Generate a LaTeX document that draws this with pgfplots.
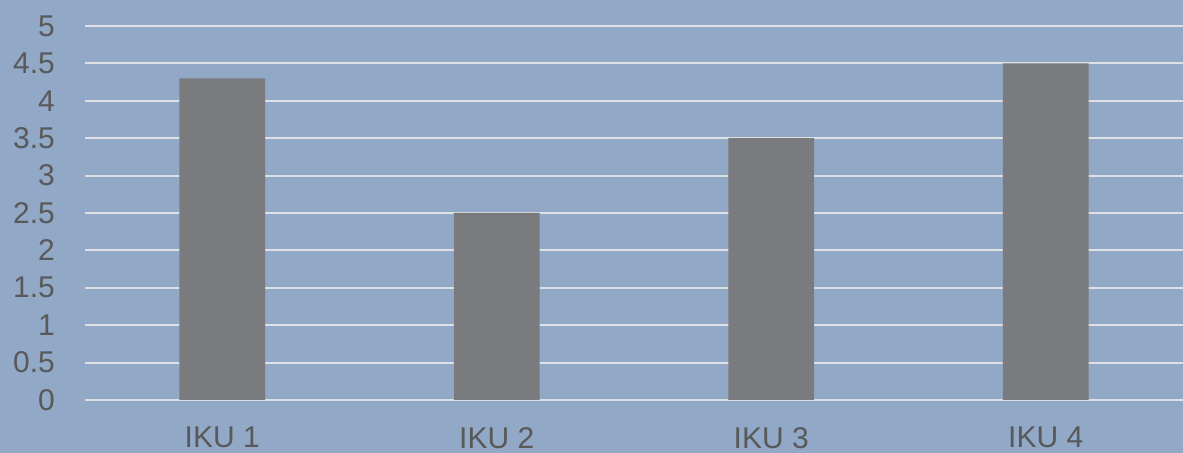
\documentclass[border=0pt]{standalone}
\usepackage{pgfplots}
\pgfplotsset{compat=1.18}
\usepackage{fontspec}
\setmainfont{Liberation Sans}
\definecolor{bg}{RGB}{145,168,198}
\definecolor{barc}{RGB}{122,123,127}
\definecolor{gridc}{RGB}{222,224,228}
\definecolor{txt}{RGB}{89,89,89}
\begin{document}
\begin{tikzpicture}
\fill[bg] (-42pt,-26.5pt) rectangle (549.5pt,200pt);
\begin{axis}[
  at={(0.5pt,0)}, anchor=south west,
  scale only axis,
  width=549pt, height=187pt,
  xmin=-0.5, xmax=3.5, ymin=0, ymax=5,
  ytick={0,0.5,...,5},
  xtick={0,1,2,3},
  xticklabels={IKU 1,IKU 2,IKU 3,IKU 4},
  axis line style={draw=none},
  major tick length=0pt,
  ymajorgrids,
  grid style={gridc, line width=1pt},
  tick label style={font=\fontsize{15}{17}\selectfont, text=txt},
  /pgf/number format/assume math mode=true,
  yticklabel style={anchor=east, xshift=-11.5pt},
  xticklabel style={anchor=north, yshift=-10pt},
  axis on top=false,
]
\addplot[ybar, bar width=0.313, fill=barc, draw=none] coordinates {(0,4.3) (1,2.5) (2,3.5) (3,4.5)};
\end{axis}
\pgfresetboundingbox
\useasboundingbox (-42pt,-26.5pt) rectangle (549.5pt,200pt);
\end{tikzpicture}
\end{document}
